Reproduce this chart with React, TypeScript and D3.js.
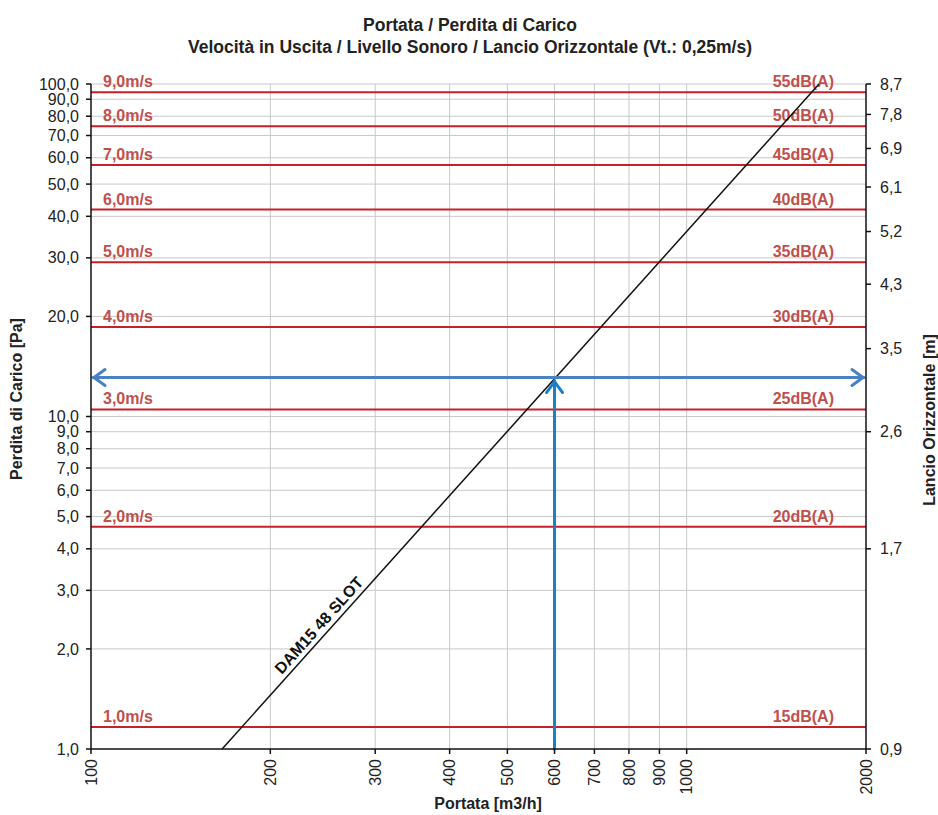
import * as d3 from "d3";

// flow axis (m3/h)
const flowTicks = [100, 200, 300, 400, 500, 600, 700, 800, 900, 1000, 2000];
const flowGrid = [200, 300, 400, 500, 600, 700, 800, 900, 1000];

// pressure drop axis (Pa)
const pressureTicks = [1, 2, 3, 4, 5, 6, 7, 8, 9, 10, 20, 30, 40, 50, 60, 70, 80, 90, 100];

// horizontal throw (m) on right axis, and the pressure they sit at
const throwLabels = ["0,9", "1,7", "2,6", "3,5", "4,3", "5,2", "6,1", "6,9", "7,8", "8,7"];
const throwPressure = [1, 4, 9, 16, 25, 36, 49, 64, 81, 100];

// outlet velocity / sound level iso-lines
const velocityLabels = ["1,0m/s", "2,0m/s", "3,0m/s", "4,0m/s", "5,0m/s", "6,0m/s", "7,0m/s", "8,0m/s", "9,0m/s"];
const soundLabels = ["15dB(A)", "20dB(A)", "25dB(A)", "30dB(A)", "35dB(A)", "40dB(A)", "45dB(A)", "50dB(A)", "55dB(A)"];
const isoPressure = [1.165, 4.66, 10.5, 18.6, 29.1, 41.9, 57.1, 74.6, 94.4];

// DAM15 48 SLOT curve
const curveFlow = [166, 1668];
const curvePressure = [1, 100];
const curveLabel = "DAM15 48 SLOT";
const curveLabelFlow = 212;

// reading example
const exampleFlow = 600;
const examplePressure = 13.1;

const W = 938;
const H = 815;
const margin = { left: 91, right: 72, top: 84, bottom: 66 };

export default function App() {
  const x = d3.scaleLog().domain([100, 2000]).range([margin.left, W - margin.right]);
  const y = d3.scaleLog().domain([1, 100]).range([H - margin.bottom, margin.top]);
  const x0 = x.range()[0];
  const x1 = x.range()[1];
  const y0 = y.range()[0];
  const y1 = y.range()[1];

  const fmt = (v: number) => v.toFixed(1).replace(".", ",");
  const font = "'Liberation Sans', Arial, sans-serif";
  const red = "#c8202a";
  const redText = "#c0504d";

  const line = d3
    .line<number>()
    .x((_, i) => x(curveFlow[i]))
    .y((d) => y(d));
  const curvePath = line(curvePressure) || "";

  // label along the curve
  const angle = (Math.atan2(y(curvePressure[0]) - y(curvePressure[1]), x(curveFlow[1]) - x(curveFlow[0])) * 180) / Math.PI;
  const lp = Math.pow(curveLabelFlow / curveFlow[0], 2);
  const lx = x(curveLabelFlow);
  const ly = y(lp);
  const rad = (angle * Math.PI) / 180;
  const off = 5;
  const labX = lx - off * Math.sin(rad);
  const labY = ly - off * Math.cos(rad);

  const ex = x(exampleFlow);
  const ey = y(examplePressure);
  const blueH = "#4a80c4";
  const blueV = "#1a7ec8";

  return (
    <svg width={W} height={H} style={{ position: "absolute", left: 0, top: 0, background: "#fff" }} fontFamily={font}>
      {/* title */}
      <text x={470} y={31} textAnchor="middle" fontSize={17.5} fontWeight="bold" fill="#222">
        Portata / Perdita di Carico
      </text>
      <text x={470} y={53} textAnchor="middle" fontSize={17.5} fontWeight="bold" fill="#222">
        Velocità in Uscita / Livello Sonoro / Lancio Orizzontale (Vt.: 0,25m/s)
      </text>

      {/* grid */}
      <g stroke="#c8c8c8" strokeWidth={1}>
        {flowGrid.map((f) => (
          <line key={"gx" + f} x1={x(f)} x2={x(f)} y1={y0} y2={y1} />
        ))}
        {pressureTicks.slice(1).map((p) => (
          <line key={"gy" + p} x1={x0} x2={x1} y1={y(p)} y2={y(p)} />
        ))}
      </g>

      {/* iso lines */}
      {isoPressure.map((p, i) => (
        <g key={"iso" + i}>
          <line x1={x0} x2={x1} y1={y(p)} y2={y(p)} stroke={red} strokeWidth={2} />
          <text x={x0 + 12} y={y(p) - 5} fontSize={16} fontWeight="bold" fill={redText}>
            {velocityLabels[i]}
          </text>
          <text x={x1 - 32} y={y(p) - 5} textAnchor="end" fontSize={16} fontWeight="bold" fill={redText}>
            {soundLabels[i]}
          </text>
        </g>
      ))}

      {/* curve */}
      <path d={curvePath} stroke="#111" strokeWidth={1.5} fill="none" />
      <text
        x={labX}
        y={labY}
        fontSize={16}
        fontWeight="bold"
        fill="#111"
        textAnchor="start"
        transform={`rotate(${-angle},${labX},${labY})`}
      >
        {curveLabel}
      </text>

      {/* reading example arrows */}
      <g fill="none" strokeWidth={3} strokeLinecap="round" strokeLinejoin="round">
        <line x1={x0 + 2} x2={x1 - 2} y1={ey} y2={ey} stroke={blueH} />
        <polyline points={`${x0 + 14},${ey - 8} ${x0 + 3},${ey} ${x0 + 14},${ey + 8}`} stroke={blueH} />
        <polyline points={`${x1 - 14},${ey - 8} ${x1 - 3},${ey} ${x1 - 14},${ey + 8}`} stroke={blueH} />
        <line x1={ex} x2={ex} y1={y0} y2={ey + 3} stroke={blueV} />
        <polyline points={`${ex - 8},${ey + 15} ${ex},${ey + 4} ${ex + 8},${ey + 15}`} stroke={blueV} />
      </g>

      {/* axes */}
      <g stroke="#111" strokeWidth={1.5}>
        <line x1={x0} x2={x0} y1={y0} y2={y1} />
        <line x1={x1} x2={x1} y1={y0} y2={y1} />
        <line x1={x0} x2={x1} y1={y0} y2={y0} />
        {pressureTicks.map((p) => (
          <line key={"lt" + p} x1={x0 - 5} x2={x0} y1={y(p)} y2={y(p)} />
        ))}
        {throwPressure.map((p) => (
          <line key={"rt" + p} x1={x1} x2={x1 + 5} y1={y(p)} y2={y(p)} />
        ))}
        {flowTicks.map((f) => (
          <line key={"bt" + f} x1={x(f)} x2={x(f)} y1={y0} y2={y0 + 5} />
        ))}
      </g>

      <g fontSize={16} fill="#222">
        {pressureTicks.map((p) => (
          <text key={"ll" + p} x={x0 - 12} y={y(p)} dy="0.35em" textAnchor="end">
            {fmt(p)}
          </text>
        ))}
        {throwPressure.map((p, i) => (
          <text key={"rl" + p} x={x1 + 14} y={y(p)} dy="0.35em" textAnchor="start">
            {throwLabels[i]}
          </text>
        ))}
        {flowTicks.map((f) => (
          <text
            key={"bl" + f}
            x={x(f)}
            y={y0 + 10}
            dy="0.35em"
            textAnchor="end"
            transform={`rotate(-90,${x(f)},${y0 + 10})`}
          >
            {f}
          </text>
        ))}
      </g>

      {/* axis titles */}
      <text x={488} y={809} textAnchor="middle" fontSize={16} fontWeight="bold" fill="#222">
        Portata [m3/h]
      </text>
      <text x={22} y={399} textAnchor="middle" fontSize={16} fontWeight="bold" fill="#222" transform="rotate(-90,22,399)">
        Perdita di Carico [Pa]
      </text>
      <text x={935} y={420} textAnchor="middle" fontSize={16} fontWeight="bold" fill="#222" transform="rotate(-90,935,420)">
        Lancio Orizzontale [m]
      </text>
    </svg>
  );
}
